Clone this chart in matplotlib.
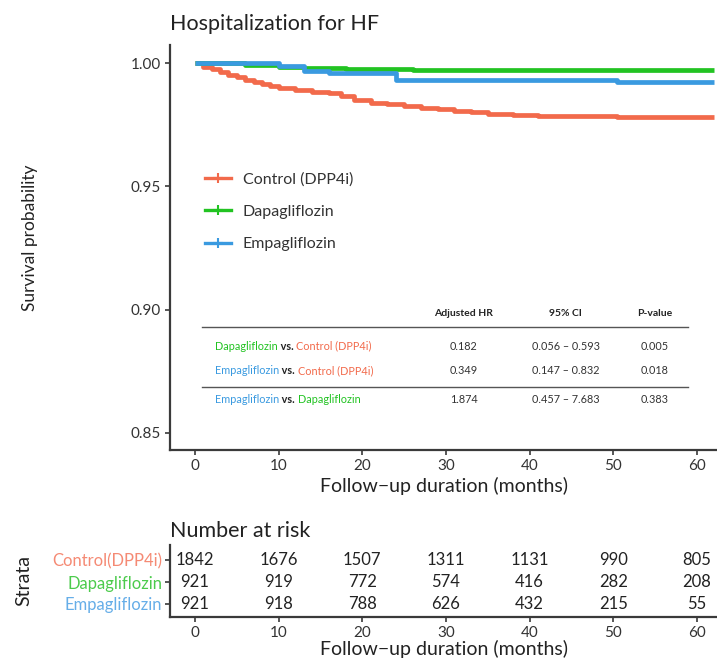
import matplotlib
matplotlib.use("Agg")
import matplotlib.pyplot as plt

plt.rcParams['font.family'] = ['Lato', 'DejaVu Sans']

# ---- data ----
groups = ["Control (DPP4i)", "Dapagliflozin", "Empagliflozin"]
risk_labels = ["Control(DPP4i)", "Dapagliflozin", "Empagliflozin"]
colors = ["#F26A4B", "#22C322", "#3A9AE0"]
label_colors = ["#F58A74", "#4CCB4C", "#66AEE8"]

ctrl_t = [0, 1, 2, 3, 4, 5, 6, 7, 8, 9, 10, 12, 14, 16, 17.5, 19, 21, 23, 25, 27, 29, 31, 33, 35, 38, 41, 50.5]
ctrl_s = [1.0, 0.9985, 0.9975, 0.9965, 0.9953, 0.9943, 0.9933, 0.9923, 0.9915, 0.9907, 0.9900, 0.9890, 0.9883,
          0.9877, 0.9865, 0.9850, 0.9838, 0.9832, 0.9826, 0.9818, 0.9812, 0.9806, 0.9800, 0.9795, 0.9790, 0.9787, 0.9780]
dapa_t = [0, 6, 10, 13, 18, 26]
dapa_s = [1.0, 0.9992, 0.9984, 0.9981, 0.9976, 0.9972]
empa_t = [0, 10, 13, 16, 24, 50.5]
empa_s = [1.0, 0.9986, 0.9966, 0.9958, 0.9932, 0.9925]
t_end = 62.0

times_risk = [0, 10, 20, 30, 40, 50, 60]
risk_ctrl = [1842, 1676, 1507, 1311, 1131, 990, 805]
risk_dapa = [921, 919, 772, 574, 416, 282, 208]
risk_empa = [921, 918, 788, 626, 432, 215, 55]

hr_header = ["Adjusted HR", "95% CI", "P-value"]
hr_rows = [
    (("Dapagliflozin", 1), ("Control (DPP4i)", 0), "0.182", "0.056 \u2013 0.593", "0.005"),
    (("Empagliflozin", 2), ("Control (DPP4i)", 0), "0.349", "0.147 \u2013 0.832", "0.018"),
    (("Empagliflozin", 2), ("Dapagliflozin", 1), "1.874", "0.457 \u2013 7.683", "0.383"),
]

W, H = 717, 664
fig = plt.figure(figsize=(W / 100, H / 100), dpi=100)

def fx(px):
    return px / W
def fy(py):
    return 1 - py / H

axis_col = "#3a3a3a"
text_col = "#222222"
xlim = (-2.99, 62.4)

# ---- main KM axes ----
ax = fig.add_axes([fx(170), fy(450), fx(717) - fx(170), fy(45) - fy(450)])
for (t, s), c, g in zip([(ctrl_t, ctrl_s), (dapa_t, dapa_s), (empa_t, empa_s)], colors, groups):
    ax.step(list(t) + [t_end], list(s) + [s[-1]], where="post", color=c, lw=3.4, solid_capstyle="butt")
    ax.plot([], [], color=c, lw=2.4, marker="+", ms=7, mew=1.5, label=g)

ax.set_xlim(*xlim)
ax.set_ylim(0.8431, 1.0073)
ax.set_xticks(times_risk)
ax.set_yticks([0.85, 0.90, 0.95, 1.00])
ax.set_yticklabels(["0.85", "0.90", "0.95", "1.00"])
for sp in ["top", "right"]:
    ax.spines[sp].set_visible(False)
for sp in ["left", "bottom"]:
    ax.spines[sp].set_color(axis_col)
    ax.spines[sp].set_linewidth(1.6)
ax.tick_params(axis="both", colors=axis_col, labelcolor="#333333", labelsize=11, length=3.5, width=1.2, pad=3)
ax.set_xlabel("Follow\u2212up duration (months)", fontsize=14, color=text_col, labelpad=3)
ax.set_ylabel("Survival probability", fontsize=12.5, color=text_col)
ax.yaxis.set_label_coords(fx(38), fy(238), transform=fig.transFigure)
ax.set_title("Hospitalization for HF", loc="left", fontsize=15.5, color=text_col, pad=11, x=0.0)

leg = ax.legend(loc="upper left", bbox_to_anchor=(0.038, 0.722), frameon=False, fontsize=11.5,
                handlelength=1.6, labelspacing=1.15, handletextpad=0.75)
for txt in leg.get_texts():
    txt.set_color("#333333")

# ---- HR table inside plot ----
col_x = [32.1, 44.3, 54.9]
hdr_y = 0.8983
row_y = [0.8852, 0.8752, 0.8635]
for xx, h in zip(col_x, hr_header):
    ax.text(xx, hdr_y, h, ha="center", va="center", fontsize=7.5, fontweight="bold", color=text_col)
ax.plot([0.8, 58.9], [0.8930, 0.8930], color="#555555", lw=1.0)
ax.plot([0.8, 58.9], [0.8687, 0.8687], color="#555555", lw=1.0)
for (a, b, hr, ci, p), yy in zip(hr_rows, row_y):
    t1 = ax.text(2.4, yy, a[0], ha="left", va="center", fontsize=7.8, color=colors[a[1]])
    t2 = ax.annotate(" vs. ", xy=(1, 0.5), xycoords=t1, ha="left", va="center", fontsize=7.8,
                     fontweight="bold", color=text_col)
    ax.annotate(b[0], xy=(1, 0.5), xycoords=t2, ha="left", va="center", fontsize=7.8, color=colors[b[1]])
    for xx, v in zip(col_x, [hr, ci, p]):
        ax.text(xx, yy, v, ha="center", va="center", fontsize=7.8, color="#333333")

# ---- risk table ----
rax = fig.add_axes([fx(170), fy(617), fx(717) - fx(170), fy(545) - fy(617)])
rax.set_xlim(*xlim)
rax.set_ylim(0.40, 3.70)
for vals, yy in zip([risk_ctrl, risk_dapa, risk_empa], [3, 2, 1]):
    for tt, v in zip(times_risk, vals):
        rax.text(tt, yy, str(v), ha="center", va="center", fontsize=12, color=text_col)
rax.set_xticks(times_risk)
rax.set_yticks([3, 2, 1])
rax.set_yticklabels(risk_labels)
for sp in ["top", "right"]:
    rax.spines[sp].set_visible(False)
for sp in ["left", "bottom"]:
    rax.spines[sp].set_color(axis_col)
    rax.spines[sp].set_linewidth(1.6)
rax.tick_params(axis="x", colors=axis_col, labelcolor="#333333", labelsize=11, length=3.5, width=1.2, pad=3)
rax.tick_params(axis="y", colors=axis_col, labelsize=12, length=3.5, width=1.2, pad=2)
for lab, c in zip(rax.get_yticklabels(), label_colors):
    lab.set_color(c)
rax.set_xlabel("Follow\u2212up duration (months)", fontsize=14, color=text_col, labelpad=0)
rax.set_ylabel("Strata", fontsize=14, color=text_col)
rax.yaxis.set_label_coords(fx(32), fy(581), transform=fig.transFigure)
rax.set_title("Number at risk", loc="left", fontsize=15.5, color=text_col, pad=6, x=0.0)

fig.savefig("out.png", dpi=100)
